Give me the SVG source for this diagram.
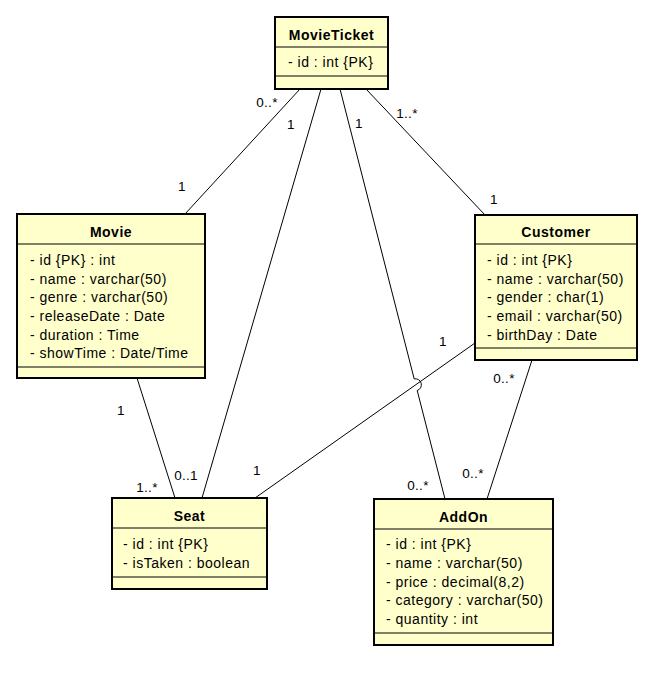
<svg xmlns="http://www.w3.org/2000/svg" width="652" height="679" viewBox="0 0 652 679">
<style>
.box{fill:#ffffcc;stroke:#000;stroke-width:2}
.sep{stroke:#000;stroke-width:1}
.title{font-family:"Liberation Sans",Arial,sans-serif;font-size:14px;font-weight:bold;text-anchor:middle;fill:#000;letter-spacing:0.5px}
.attr{font-family:"Liberation Sans",Arial,sans-serif;font-size:14px;fill:#000;letter-spacing:0.5px}
.lbl{font-family:"Liberation Sans",Arial,sans-serif;font-size:13.5px;fill:#000;text-anchor:middle;letter-spacing:0.3px}
.conn{fill:none;stroke:#000;stroke-width:1}
</style>
<rect width="652" height="679" fill="#fff"/>
<g id="connectors">
<line class="conn" x1="300" y1="89" x2="185" y2="214"/>
<line class="conn" x1="321" y1="89" x2="202" y2="498"/>
<path class="conn" d="M340 89 L414.2 378.9 A6 6 0 0 1 417.2 390.5 L445 499"/>
<line class="conn" x1="366" y1="89" x2="485" y2="215"/>
<line class="conn" x1="137" y1="378" x2="175" y2="498"/>
<line class="conn" x1="475" y1="343" x2="255" y2="498"/>
<line class="conn" x1="532" y1="360" x2="487" y2="499"/>
<text class="lbl" x="267" y="107">0..*</text>
<text class="lbl" x="182" y="191">1</text>
<text class="lbl" x="291" y="129">1</text>
<text class="lbl" x="186" y="480">0..1</text>
<text class="lbl" x="359" y="128">1</text>
<text class="lbl" x="418" y="490">0..*</text>
<text class="lbl" x="407" y="118">1..*</text>
<text class="lbl" x="494" y="204">1</text>
<text class="lbl" x="121" y="415">1</text>
<text class="lbl" x="147" y="492">1..*</text>
<text class="lbl" x="443" y="346">1</text>
<text class="lbl" x="257" y="475">1</text>
<text class="lbl" x="504" y="383">0..*</text>
<text class="lbl" x="473" y="478">0..*</text>
</g>
<g id="MovieTicket">
<rect class="box" x="275" y="17" width="113" height="72"/>
<line class="sep" x1="275" y1="47" x2="388" y2="47"/>
<line class="sep" x1="275" y1="76" x2="388" y2="76"/>
<text class="title" x="331.5" y="40">MovieTicket</text>
<text class="attr" x="288" y="67">- id : int {PK}</text>
</g>
<g id="Movie">
<rect class="box" x="17" y="214" width="188" height="164"/>
<line class="sep" x1="17" y1="244" x2="205" y2="244"/>
<line class="sep" x1="17" y1="367" x2="205" y2="367"/>
<text class="title" x="111" y="237">Movie</text>
<text class="attr" x="30" y="265">- id {PK} : int</text>
<text class="attr" x="30" y="284">- name : varchar(50)</text>
<text class="attr" x="30" y="302">- genre : varchar(50)</text>
<text class="attr" x="30" y="321">- releaseDate : Date</text>
<text class="attr" x="30" y="340">- duration : Time</text>
<text class="attr" x="30" y="358">- showTime : Date/Time</text>
</g>
<g id="Customer">
<rect class="box" x="475" y="215" width="162" height="145"/>
<line class="sep" x1="475" y1="244" x2="637" y2="244"/>
<line class="sep" x1="475" y1="348" x2="637" y2="348"/>
<text class="title" x="556" y="237">Customer</text>
<text class="attr" x="487" y="265">- id : int {PK}</text>
<text class="attr" x="487" y="284">- name : varchar(50)</text>
<text class="attr" x="487" y="302">- gender : char(1)</text>
<text class="attr" x="487" y="321">- email : varchar(50)</text>
<text class="attr" x="487" y="340">- birthDay : Date</text>
</g>
<g id="Seat">
<rect class="box" x="112" y="498" width="155" height="91"/>
<line class="sep" x1="112" y1="528" x2="267" y2="528"/>
<line class="sep" x1="112" y1="577" x2="267" y2="577"/>
<text class="title" x="189.5" y="521">Seat</text>
<text class="attr" x="123" y="549">- id : int {PK}</text>
<text class="attr" x="123" y="568">- isTaken : boolean</text>
</g>
<g id="AddOn">
<rect class="box" x="374" y="499" width="179" height="146"/>
<line class="sep" x1="374" y1="529" x2="553" y2="529"/>
<line class="sep" x1="374" y1="633" x2="553" y2="633"/>
<text class="title" x="463.5" y="522">AddOn</text>
<text class="attr" x="386" y="549">- id : int {PK}</text>
<text class="attr" x="386" y="568">- name : varchar(50)</text>
<text class="attr" x="386" y="587">- price : decimal(8,2)</text>
<text class="attr" x="386" y="605">- category : varchar(50)</text>
<text class="attr" x="386" y="624">- quantity : int</text>
</g>
</svg>
